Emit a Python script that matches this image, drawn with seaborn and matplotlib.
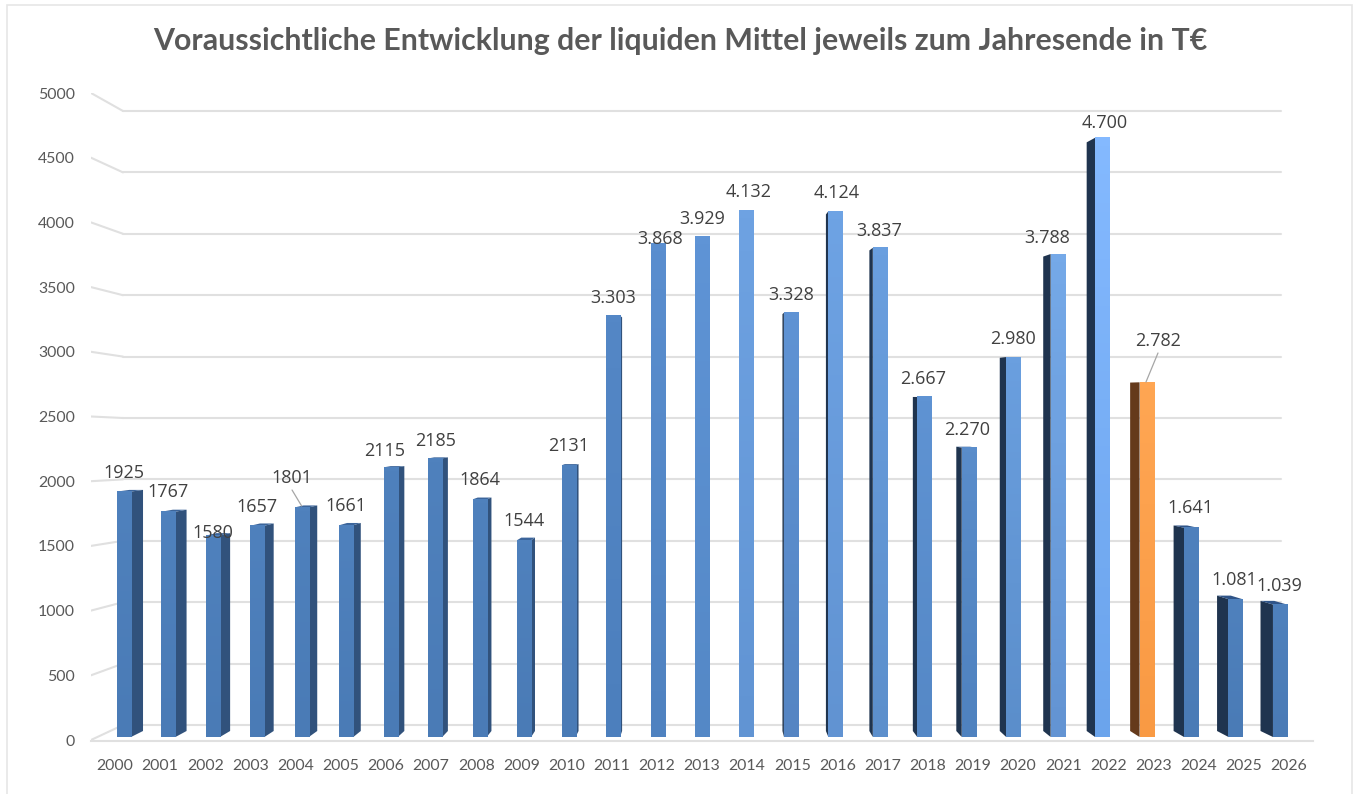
import numpy as np
import pandas as pd
import matplotlib
matplotlib.use("Agg")
import matplotlib.pyplot as plt
from matplotlib.colors import LinearSegmentedColormap
from matplotlib.patches import Rectangle
import seaborn as sns

years = [str(y) for y in range(2000, 2027)]
values = [1925, 1767, 1580, 1657, 1801, 1661, 2115, 2185, 1864, 1544, 2131,
          3303, 3868, 3929, 4132, 3328, 4124, 3837, 2667, 2270, 2980, 3788,
          4700, 2782, 1641, 1081, 1039]
labels = ["1925", "1767", "1580", "1657", "1801", "1661", "2115", "2185",
          "1864", "1544", "2131", "3.303", "3.868", "3.929", "4.132", "3.328",
          "4.124", "3.837", "2.667", "2.270", "2.980", "3.788", "4.700",
          "2.782", "1.641", "1.081", "1.039"]
y_ticks = [0, 500, 1000, 1500, 2000, 2500, 3000, 3500, 4000, 4500, 5000]

# colours of the bars, top of the front face / bottom of it / side face
front_top = ["#4f81bd"] * 11 + ["#5487c6", "#5a8ecf", "#5f94d6", "#6ea2e2",
                                "#5f93d4", "#6ea3e4", "#6a9fdf", "#5f93d3",
                                "#5a8dcb", "#6a9fdf", "#75a9e8", "#84b9ff",
                                "#ffa653", "#4f81bd", "#4f81bd", "#4f81bd"]
front_bottom = ["#4a7bb6"] * 11 + ["#4c7fbd", "#4f82c0", "#5488c6", "#6194d3",
                                   "#5585c3", "#6193d2", "#5c8fcc", "#5588c6",
                                   "#4f82bf", "#5b8ecb", "#6394d3", "#6ba4ec",
                                   "#f99a44", "#4a7bb6", "#4a7bb6", "#4a7bb6"]
side = ["#31527c"] * 14 + ["#1f344f"] * 9 + ["#653a1b"] + ["#1f344f"] * 3
top_face = ["#3c659b"] * 23 + ["#8a5527"] + ["#2f5488"] * 3

# where each value label sits relative to its bar top, in pixels
label_dx = [0, 0, 0, 0, -10, 0, -6, 0, 0, 0, 0, 0, 3, 0, 2, 0, 1, -1, -1, -2,
            0, -11, 3, 11, -1, -1, -1]
label_dy = [21, 22, 5, 21, 31, 21, 18, 19, 21, 21, 21, 20, 7, 19, 20, 20, 20,
            19, 20, 20, 20, 18, 17, 43, 22, 21, 21]

GREY = "#595959"
LINE = "#e0e0e0"

sns.set_theme(style="white")
plt.rcParams["font.family"] = ["Lato", "DejaVu Sans"]

W, H = 1357, 794
fig = plt.figure(figsize=(W / 100, H / 100), dpi=100)
left, right, top, bottom = 91, 1313, 93, 741
ax = fig.add_axes([left / W, 1 - bottom / H, (right - left) / W, (bottom - top) / H])


# helpers: pixel position in the screenshot -> data position
def px_x(px):
    return (px - 124) / 44.46


def px_y(py):
    return (737 - py) / 0.1275


df = pd.DataFrame({"year": years, "value": values})
sns.barplot(data=df, x="year", y="value", hue="year", palette=front_top, legend=False,
            width=0.315, saturation=1, linewidth=0, ax=ax, zorder=3)

# fake 3D depth of the bars, towards a vanishing point in the middle of the chart
x_van, y_van = px_x(720), 2660
k_y = 0.0177
for i, bar in enumerate(ax.patches[:len(values)]):
    xl, xr = bar.get_x(), bar.get_x() + bar.get_width()
    v = bar.get_height()
    k_x = 0.0204 if xr < x_van else 0.0225
    back = lambda x: x + k_x * (x_van - x)
    back_v = v + k_y * (y_van - v)
    edge = xr if xr < x_van else xl
    ax.fill([edge, back(edge), back(edge), edge], [0, k_y * y_van, back_v, v],
            color=side[i], lw=0, zorder=2)
    if v < y_van:
        ax.fill([xl, xr, back(xr), back(xl)], [v, v, back_v, back_v],
                color=top_face[i], lw=0, zorder=2)
    cmap = LinearSegmentedColormap.from_list("bar", [front_top[i], front_bottom[i]])
    ax.imshow(np.linspace(0, 1, 64)[:, None], extent=(xl, xr, 0, v), cmap=cmap,
              aspect="auto", zorder=3.5)
    ax.annotate(labels[i], xy=(i, v), xytext=(label_dx[i], label_dy[i] - 2),
                textcoords="offset pixels", ha="center", va="center", family="Open Sans",
                fontsize=13, color="#404040", zorder=5, annotation_clip=False)

# back wall gridlines and the short slanted bits on the left wall
for t in y_ticks:
    py_front = 740 - 0.1294 * t
    py_back = 725 - 0.1228 * t
    ax.plot([px_x(left), px_x(123)], [px_y(py_front), px_y(py_back)], color=LINE, lw=1.5, zorder=1)
    ax.plot([px_x(123), px_x(1281)], [px_y(py_back), px_y(py_back)], color=LINE, lw=1.5, zorder=1)

# leader lines of the two moved labels
ax.plot([4 - 9.8 / 44.46, 4 - 0.2 / 44.46], [px_y(490), px_y(506)], color="#a6a6a6", lw=0.9, zorder=5)
ax.plot([23 + 11.4 / 44.46, 23 - 0.6 / 44.46], [px_y(353), px_y(382)], color="#a6a6a6", lw=0.9, zorder=5)

ax.set_xlim(px_x(left), px_x(right))
ax.set_ylim(px_y(bottom), px_y(top))
ax.set_xlabel("")
ax.set_ylabel("")

# axis labels follow the (wider) front edge of the floor, not the bars
ax.set_xticks([13 + (i - 13) * 45.15 / 44.46 for i in range(len(years))])
ax.set_xticklabels(years)
ax.set_yticks([px_y(740 - 0.1294 * t) for t in y_ticks])
ax.set_yticklabels([str(t) for t in y_ticks])
ax.tick_params(axis="x", length=0, pad=13, labelsize=11.4, labelcolor=GREY)
ax.tick_params(axis="y", length=0, pad=11.5, labelsize=11.4, labelcolor=GREY)
sns.despine(ax=ax, left=True, top=True, right=True)
ax.spines["bottom"].set_color(LINE)
ax.spines["bottom"].set_linewidth(1.5)
ax.patch.set_alpha(0)

fig.text(680 / W, 1 - 41 / H, "Voraussichtliche Entwicklung der liquiden Mittel jeweils zum Jahresende in T€",
         ha="center", va="center", fontsize=21.8, fontweight="bold", color=GREY)

# thin frame of the embedded chart
fig.add_artist(Rectangle((7 / W, -0.01), (1352 - 7) / W, 1.01 - 5 / H, transform=fig.transFigure,
                         fill=False, edgecolor="#e6e6e6", lw=1.2))

fig.savefig("out.png", dpi=100)
